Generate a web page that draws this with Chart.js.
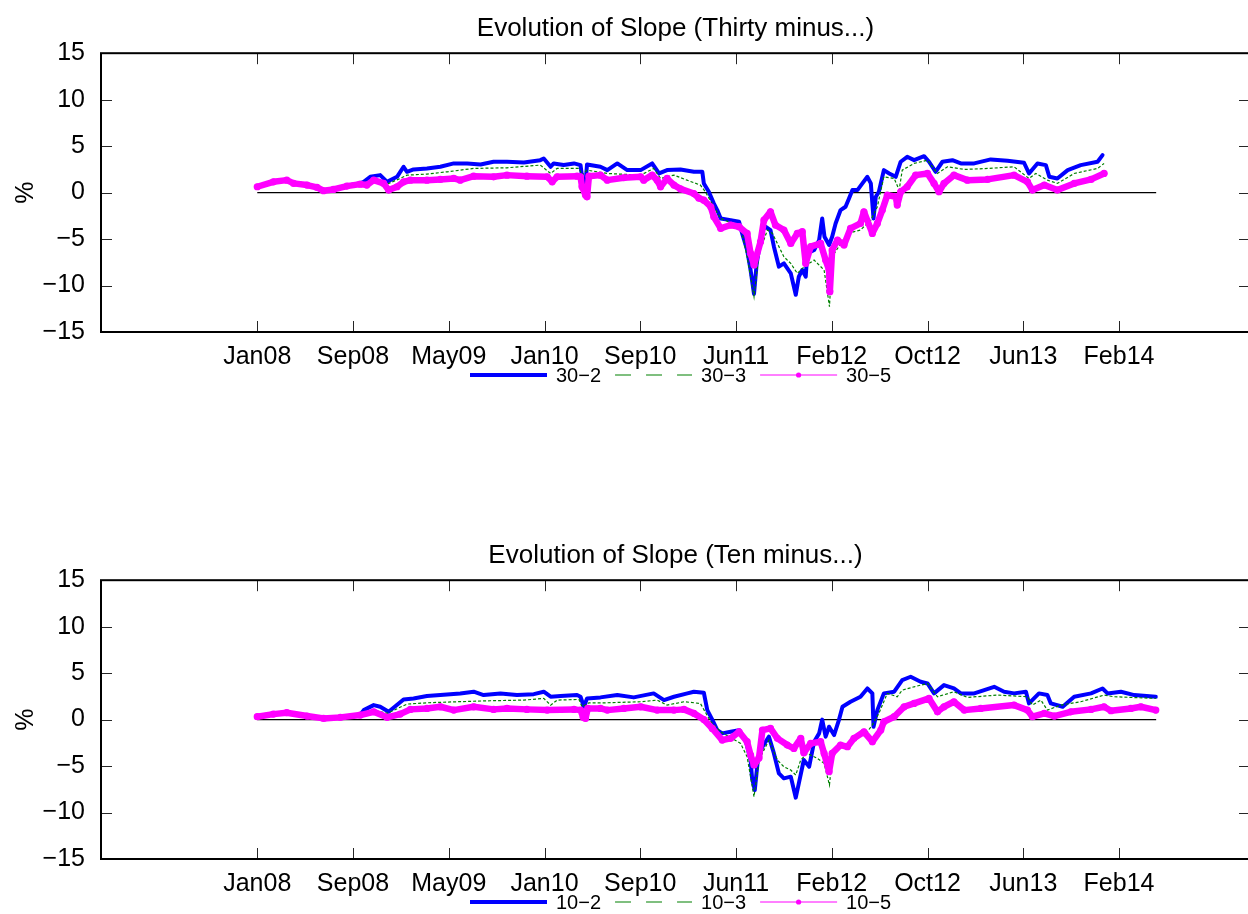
<!DOCTYPE html>
<html>
<head>
<meta charset="utf-8">
<title>Evolution of Slope</title>
<script src="https://cdn.jsdelivr.net/npm/chart.js@4.4.1/dist/chart.umd.min.js"></script>
<style>
  html, body { margin: 0; padding: 0; background: #fff; overflow: hidden; width: 1248px; height: 914px; }
  .panel { position: absolute; left: 0; }
  #top { top: 0; }
  #bottom { top: 527px; }
</style>
</head>
<body>
<div class="panel" id="top"><canvas id="thirtyChart" width="1262" height="387"></canvas></div>
<div class="panel" id="bottom"><canvas id="tenChart" width="1262" height="387"></canvas></div>
<script>
// x values are days counted from 1 Jan 2008
const xMin = -408;
const xMax = 2592;
const xTickDays = [0, 250, 500, 750, 1000, 1250, 1500, 1750, 2000, 2250];
const xTickLabels = ['Jan08', 'Sep08', 'May09', 'Jan10', 'Sep10', 'Jun11', 'Feb12', 'Oct12', 'Jun13', 'Feb14'];

const zeroLineDays = [0, 2347];
const zeroLineVals = [0, 0];

// --- Thirty minus ... ---
const thirtyLabels = ['30\u22122', '30\u22123', '30\u22125'];

const thirty2Days = [0, 42, 77, 95, 130, 156, 173, 199, 234, 269, 278, 295, 321, 339, 365, 382, 391, 408, 443, 478, 513, 548, 583, 617, 652, 696, 739, 748, 766, 774, 800, 827, 844, 848, 857, 861, 896, 914, 940, 966, 1001, 1031, 1049, 1070, 1105, 1140, 1162, 1166, 1179, 1192, 1201, 1210, 1236, 1258, 1266, 1279, 1288, 1297, 1304, 1314, 1319, 1327, 1340, 1349, 1362, 1375, 1393, 1406, 1414, 1423, 1432, 1436, 1454, 1467, 1475, 1481, 1493, 1501, 1510, 1523, 1536, 1545, 1554, 1567, 1580, 1593, 1602, 1609, 1615, 1623, 1636, 1650, 1667, 1680, 1697, 1715, 1741, 1754, 1771, 1789, 1815, 1837, 1872, 1915, 1959, 2002, 2015, 2037, 2059, 2068, 2089, 2116, 2150, 2194, 2207];
const thirty2Vals = [0.65, 1.2, 1.38, 1.05, 0.85, 0.6, 0.25, 0.4, 0.75, 1.0, 1.16, 1.7, 1.88, 1.16, 1.7, 2.78, 2.24, 2.49, 2.6, 2.78, 3.14, 3.14, 3.03, 3.32, 3.32, 3.24, 3.49, 3.67, 2.78, 3.14, 2.96, 3.14, 2.96, 1.7, 0.99, 3.03, 2.78, 2.42, 3.14, 2.42, 2.42, 3.14, 2.06, 2.42, 2.49, 2.24, 2.24, 0.99, 0.09, -1.16, -1.88, -2.78, -2.96, -3.14, -4.39, -6.18, -8.33, -10.9, -7.62, -5.11, -4.03, -3.67, -4.03, -5.82, -7.97, -7.62, -8.69, -11.0, -9.05, -8.33, -9.05, -6.54, -6.18, -5.11, -2.78, -4.75, -5.64, -4.75, -3.32, -1.88, -1.52, -0.63, 0.27, 0.27, 0.99, 1.7, 0.99, -2.78, -0.45, 0.09, 2.42, 2.06, 1.7, 3.32, 3.85, 3.49, 3.92, 3.32, 2.24, 3.32, 3.49, 3.14, 3.14, 3.57, 3.42, 3.21, 2.06, 3.14, 2.96, 1.7, 1.52, 2.42, 2.96, 3.32, 4.03];

const thirty3Days = [0, 42, 77, 95, 130, 156, 173, 199, 234, 269, 304, 339, 373, 391, 443, 496, 565, 652, 739, 766, 783, 840, 848, 861, 914, 1001, 1035, 1053, 1088, 1122, 1157, 1170, 1192, 1210, 1262, 1279, 1297, 1310, 1332, 1345, 1358, 1375, 1393, 1410, 1428, 1454, 1480, 1494, 1501, 1541, 1575, 1602, 1619, 1636, 1663, 1676, 1684, 1715, 1750, 1776, 1802, 1846, 1907, 1976, 2015, 2033, 2063, 2089, 2133, 2194, 2211];
const thirty3Vals = [0.64, 1.18, 1.36, 1.02, 0.83, 0.58, 0.22, 0.37, 0.72, 0.95, 1.34, 0.91, 1.52, 1.88, 1.99, 2.24, 2.6, 2.67, 2.96, 2.06, 2.6, 2.6, 1.88, 2.42, 2.06, 1.88, 2.6, 1.52, 1.88, 1.34, 0.81, 0.09, -1.52, -2.78, -3.67, -6.9, -11.2, -6.54, -4.03, -4.39, -5.47, -6.9, -7.62, -8.69, -7.97, -7.26, -8.33, -12.27, -6.9, -4.39, -4.03, -2.96, -1.52, 1.7, 1.52, 0.27, 2.42, 3.14, 3.49, 2.06, 2.78, 2.49, 2.6, 2.78, 1.52, 2.06, 1.34, 0.99, 2.06, 2.6, 3.14];

const thirty5Days = [0, 42, 77, 95, 130, 156, 173, 199, 234, 269, 286, 304, 330, 343, 365, 382, 400, 443, 478, 513, 530, 565, 617, 652, 704, 757, 770, 783, 835, 844, 848, 857, 861, 866, 896, 914, 957, 1001, 1009, 1031, 1044, 1053, 1070, 1088, 1105, 1140, 1153, 1166, 1184, 1192, 1210, 1236, 1258, 1279, 1288, 1297, 1314, 1323, 1340, 1353, 1375, 1393, 1410, 1423, 1432, 1445, 1471, 1484, 1493, 1495, 1501, 1515, 1532, 1549, 1575, 1584, 1606, 1619, 1632, 1645, 1667, 1671, 1680, 1697, 1719, 1750, 1767, 1780, 1793, 1819, 1854, 1907, 1976, 2011, 2024, 2055, 2089, 2133, 2177, 2211];
const thirty5Vals = [0.63, 1.16, 1.34, 0.99, 0.81, 0.56, 0.2, 0.34, 0.7, 0.91, 0.81, 1.34, 0.99, 0.27, 0.63, 1.16, 1.34, 1.34, 1.42, 1.52, 1.34, 1.77, 1.7, 1.88, 1.77, 1.7, 1.16, 1.7, 1.77, 1.7, 0.63, -0.27, -0.45, 1.77, 1.88, 1.34, 1.6, 1.7, 1.34, 1.88, 1.34, 0.63, 1.52, 0.81, 0.4, -0.1, -0.6, -0.81, -1.52, -2.6, -3.85, -3.49, -3.67, -4.39, -6.54, -7.79, -5.29, -2.96, -2.06, -3.49, -4.03, -5.47, -4.39, -4.21, -7.62, -5.82, -5.47, -7.26, -8.33, -10.66, -6.18, -5.11, -5.64, -3.85, -3.32, -2.06, -4.39, -3.32, -1.88, -0.27, -0.45, -1.34, 0.09, 0.63, 1.88, 2.06, 0.99, 0.09, 0.99, 1.88, 1.34, 1.42, 1.88, 1.16, 0.27, 0.81, 0.27, 0.99, 1.42, 2.06];

// --- Ten minus ... ---
const tenLabels = ['10\u22122', '10\u22123', '10\u22125'];

const ten2Days = [0, 42, 77, 130, 173, 217, 269, 278, 304, 321, 343, 382, 408, 443, 478, 530, 565, 591, 635, 678, 722, 748, 766, 792, 835, 844, 853, 861, 896, 940, 983, 1035, 1062, 1088, 1123, 1140, 1166, 1175, 1188, 1201, 1214, 1236, 1258, 1275, 1288, 1292, 1299, 1307, 1319, 1336, 1349, 1362, 1375, 1393, 1406, 1414, 1427, 1441, 1454, 1467, 1475, 1484, 1493, 1506, 1519, 1528, 1549, 1575, 1593, 1606, 1609, 1619, 1636, 1663, 1684, 1706, 1732, 1750, 1767, 1793, 1819, 1837, 1872, 1924, 1950, 1976, 2007, 2015, 2041, 2063, 2072, 2103, 2133, 2177, 2207, 2220, 2255, 2290, 2346];
const ten2Vals = [0.35, 0.62, 0.78, 0.42, 0.17, 0.28, 0.55, 1.02, 1.56, 1.38, 0.84, 2.17, 2.28, 2.53, 2.64, 2.82, 3.0, 2.64, 2.82, 2.64, 2.74, 3.0, 2.46, 2.53, 2.64, 2.46, 1.38, 2.28, 2.39, 2.64, 2.39, 2.82, 2.1, 2.46, 2.82, 3.0, 2.89, 1.02, 0, -1.13, -1.48, -1.31, -1.13, -2.2, -4.35, -6.32, -7.58, -4.35, -2.92, -1.84, -3.64, -5.79, -6.32, -6.14, -8.4, -6.86, -4.35, -5.07, -2.38, -1.48, 0, -1.84, -0.77, -1.66, 0, 1.38, 1.92, 2.46, 3.35, 2.82, -0.77, 1.02, 2.82, 3.0, 4.25, 4.61, 4.07, 3.89, 2.82, 3.71, 3.35, 2.82, 2.82, 3.53, 3.0, 2.82, 3.0, 1.74, 2.82, 2.64, 1.74, 1.38, 2.46, 2.82, 3.35, 2.82, 3.0, 2.64, 2.46];

const ten3Days = [0, 42, 77, 130, 173, 217, 269, 304, 339, 391, 443, 521, 609, 696, 748, 766, 783, 840, 848, 866, 914, 1001, 1044, 1070, 1114, 1157, 1184, 1210, 1262, 1279, 1297, 1310, 1336, 1358, 1375, 1393, 1406, 1419, 1436, 1462, 1480, 1494, 1501, 1523, 1558, 1593, 1606, 1623, 1645, 1671, 1684, 1715, 1750, 1776, 1819, 1854, 1933, 2011, 2024, 2046, 2063, 2098, 2150, 2211, 2237, 2346];
const ten3Vals = [0.34, 0.6, 0.76, 0.4, 0.15, 0.26, 0.52, 1.02, 0.67, 1.67, 1.81, 1.92, 2.03, 2.1, 2.28, 1.56, 2.1, 2.17, 1.38, 1.81, 1.81, 1.92, 2.1, 1.56, 1.92, 1.74, -0.23, -1.31, -2.56, -4.0, -8.29, -4.35, -2.2, -4.35, -5.07, -5.43, -5.96, -4.35, -3.64, -4.17, -4.71, -7.04, -4.0, -2.92, -2.2, -1.31, -0.56, 0.67, 2.82, 2.46, 3.17, 3.53, 3.89, 2.46, 3.0, 2.39, 2.64, 2.46, 1.56, 2.1, 1.02, 1.56, 1.92, 2.64, 2.46, 2.28];

const ten5Days = [0, 42, 77, 130, 173, 217, 269, 304, 339, 373, 400, 443, 478, 513, 565, 617, 652, 704, 757, 827, 844, 851, 857, 863, 896, 914, 957, 1001, 1044, 1088, 1114, 1140, 1166, 1188, 1214, 1236, 1258, 1279, 1288, 1297, 1310, 1319, 1340, 1358, 1384, 1401, 1419, 1427, 1445, 1471, 1480, 1493, 1501, 1523, 1541, 1558, 1584, 1606, 1628, 1636, 1663, 1689, 1715, 1754, 1776, 1793, 1819, 1846, 1889, 1976, 2011, 2024, 2055, 2081, 2124, 2177, 2211, 2229, 2281, 2307, 2346];
const ten5Vals = [0.31, 0.59, 0.74, 0.38, 0.13, 0.24, 0.49, 0.84, 0.24, 0.59, 1.1, 1.2, 1.38, 1.02, 1.38, 1.1, 1.2, 1.1, 1.02, 1.1, 1.02, 0.24, 0.13, 1.2, 1.2, 1.02, 1.2, 1.38, 1.02, 1.02, 1.1, 0.67, 0, -0.95, -2.2, -2.02, -1.31, -2.38, -3.81, -4.89, -4.12, -1.13, -0.95, -2.02, -2.74, -3.1, -2.02, -3.58, -2.56, -2.38, -3.64, -5.61, -3.64, -2.74, -2.92, -2.02, -1.31, -2.38, -1.13, -0.23, 0.31, 1.38, 1.74, 2.28, 0.84, 1.38, 1.92, 1.02, 1.2, 1.56, 1.02, 0.31, 0.67, 0.38, 0.84, 1.1, 1.38, 0.95, 1.2, 1.38, 1.02];

const fontFamily = '"Liberation Sans", Arial, Helvetica, sans-serif';
Chart.defaults.font.family = fontFamily;
Chart.defaults.color = '#000';

const toPoints = (days, vals) => days.map((d, i) => ({ x: d, y: vals[i] }));

// box round the axes with inward ticks on all four sides
const axesBox = {
    id: 'axesBox',
    afterDatasetsDraw(chart) {
        const { ctx, chartArea: a, scales: { x, y } } = chart;
        ctx.save();
        ctx.strokeStyle = '#262626';
        ctx.lineWidth = 1;
        ctx.beginPath();
        x.ticks.forEach(t => {
            const px = Math.round(x.getPixelForValue(t.value)) + 0.5;
            ctx.moveTo(px, a.bottom); ctx.lineTo(px, a.bottom - 11);
            ctx.moveTo(px, a.top); ctx.lineTo(px, a.top + 11);
        });
        y.ticks.forEach(t => {
            const py = Math.round(y.getPixelForValue(t.value)) + 0.5;
            ctx.moveTo(a.left, py); ctx.lineTo(a.left + 11, py);
            ctx.moveTo(a.right, py); ctx.lineTo(a.right - 11, py);
        });
        ctx.stroke();
        ctx.strokeStyle = '#000';
        ctx.lineWidth = 2;
        ctx.strokeRect(a.left, a.top, a.right - a.left, a.bottom - a.top);
        ctx.restore();
    }
};

// MATLAB-like legend under the x tick labels, no frame
const lineLegend = {
    id: 'lineLegend',
    afterDraw(chart) {
        const { ctx, chartArea: a } = chart;
        const items = chart.data.datasets.filter(ds => ds.legendKind);
        ctx.save();
        ctx.font = '20px ' + fontFamily;
        ctx.textBaseline = 'middle';
        let x = (a.left + a.right) / 2 - 205.5;
        const y = a.bottom + 43;
        items.forEach(ds => {
            ctx.save();
            ctx.strokeStyle = ds.borderColor;
            if (ds.legendKind === 'thick') {
                ctx.lineWidth = 4;
            } else if (ds.legendKind === 'dash') {
                ctx.lineWidth = 1.2;
                ctx.setLineDash([16, 15]);
            } else {
                ctx.lineWidth = 1;
            }
            ctx.beginPath();
            ctx.moveTo(x, y);
            ctx.lineTo(x + 77, y);
            ctx.stroke();
            if (ds.legendKind === 'dot') {
                ctx.fillStyle = ds.borderColor;
                ctx.beginPath();
                ctx.arc(x + 38.5, y, 2.6, 0, Math.PI * 2);
                ctx.fill();
            }
            ctx.restore();
            ctx.fillStyle = '#000';
            ctx.fillText(ds.label, x + 86, y + 1);
            x += 86 + ctx.measureText(ds.label).width + 14;
        });
        ctx.restore();
    }
};

function makeChart(canvasId, titleText, labels, s2, s3, s5) {
    const ctx = document.getElementById(canvasId).getContext('2d');
    return new Chart(ctx, {
        type: 'line',
        data: {
            datasets: [
                {
                    label: labels[0],
                    data: s2,
                    borderColor: '#0000ff',
                    borderWidth: 4,
                    borderJoinStyle: 'round',
                    borderCapStyle: 'round',
                    pointRadius: 0,
                    order: 3,
                    legendKind: 'thick'
                },
                {
                    label: labels[1],
                    data: s3,
                    borderColor: '#008000',
                    borderWidth: 1.2,
                    borderDash: [3, 2],
                    pointRadius: 0,
                    order: 2,
                    legendKind: 'dash'
                },
                {
                    label: labels[2],
                    data: s5,
                    borderColor: '#ff00ff',
                    backgroundColor: '#ff00ff',
                    borderWidth: 6.5,
                    borderJoinStyle: 'round',
                    borderCapStyle: 'round',
                    pointRadius: 3.6,
                    pointBorderWidth: 0,
                    pointBackgroundColor: '#ff00ff',
                    order: 1,
                    legendKind: 'dot'
                },
                {
                    label: 'zero',
                    data: toPoints(zeroLineDays, zeroLineVals),
                    borderColor: '#000000',
                    borderWidth: 1.4,
                    pointRadius: 0,
                    order: 4
                }
            ]
        },
        options: {
            responsive: false,
            animation: false,
            devicePixelRatio: 1,
            layout: { padding: { left: 0, right: 12, top: 0, bottom: 0 } },
            plugins: {
                legend: { display: false },
                tooltip: { enabled: false },
                title: {
                    display: true,
                    text: titleText,
                    fullSize: false,
                    color: '#000',
                    font: { size: 26, weight: 'normal' },
                    padding: { top: 13, bottom: 9 }
                }
            },
            scales: {
                x: {
                    type: 'linear',
                    min: xMin,
                    max: xMax,
                    grid: { display: false },
                    border: { display: false },
                    afterBuildTicks: s => { s.ticks = xTickDays.map(v => ({ value: v })); },
                    afterFit: s => { s.height = 55; },
                    ticks: {
                        color: '#000',
                        font: { size: 25 },
                        padding: 2,
                        maxRotation: 0,
                        autoSkip: false,
                        callback: v => xTickLabels[xTickDays.indexOf(v)]
                    }
                },
                y: {
                    min: -15,
                    max: 15,
                    grid: { display: false },
                    border: { display: false },
                    afterFit: s => { s.width = 101; },
                    ticks: {
                        stepSize: 5,
                        color: '#000',
                        font: { size: 25 },
                        padding: 8,
                        callback: v => (v < 0 ? '\u2212' + Math.abs(v) : String(v))
                    },
                    title: {
                        display: true,
                        text: '%',
                        color: '#000',
                        font: { size: 25 },
                        padding: { top: 11, bottom: 0 }
                    }
                }
            }
        },
        plugins: [axesBox, lineLegend]
    });
}

makeChart('thirtyChart', 'Evolution of Slope (Thirty minus...)', thirtyLabels,
    toPoints(thirty2Days, thirty2Vals), toPoints(thirty3Days, thirty3Vals), toPoints(thirty5Days, thirty5Vals));
makeChart('tenChart', 'Evolution of Slope (Ten minus...)', tenLabels,
    toPoints(ten2Days, ten2Vals), toPoints(ten3Days, ten3Vals), toPoints(ten5Days, ten5Vals));
</script>
</body>
</html>
